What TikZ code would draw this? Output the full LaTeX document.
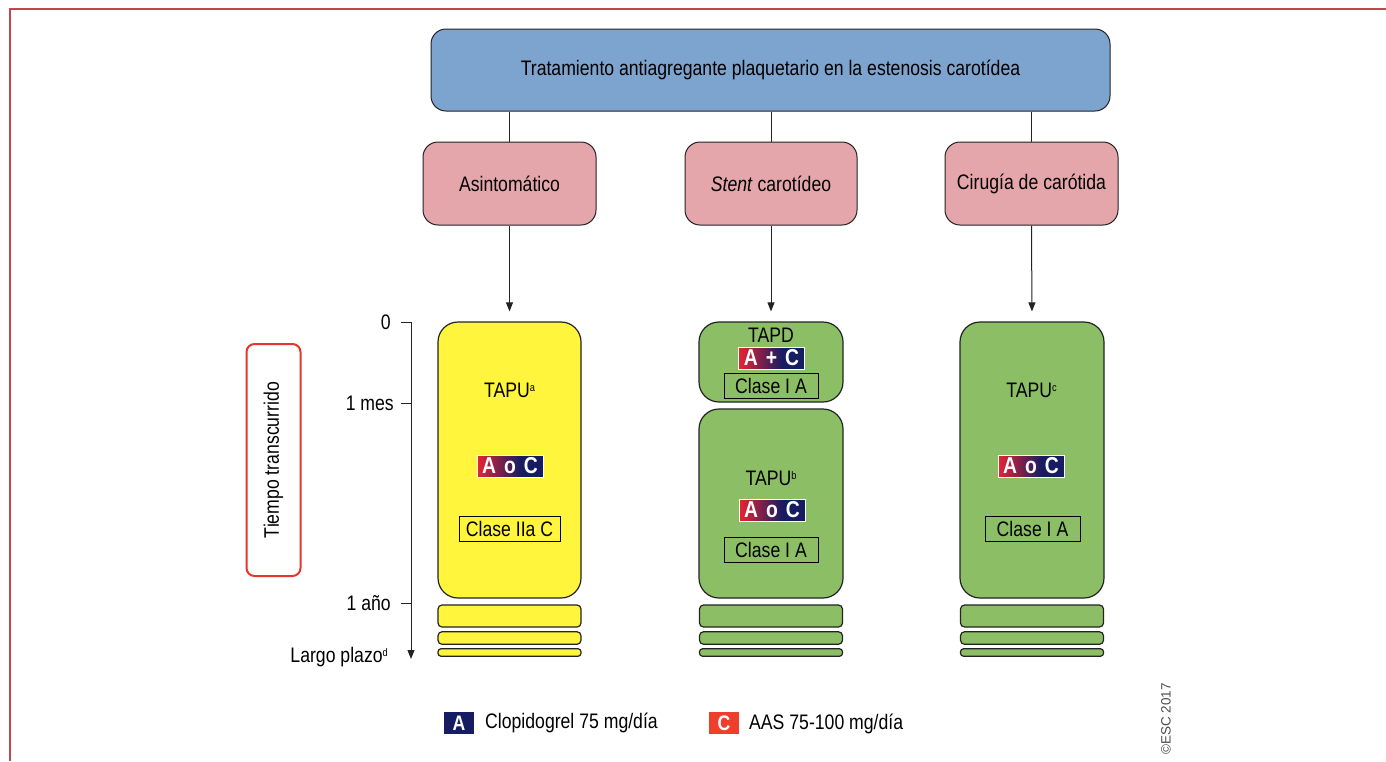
\documentclass[tikz,border=0pt]{standalone}
\usepackage{fontspec}
\setmainfont[FakeStretch=0.84]{Liberation Sans}
\newfontfamily\escfont{Liberation Sans}
\usetikzlibrary{arrows.meta}
\newcommand{\supx}[1]{\raisebox{6pt}{\fontsize{11}{12}\selectfont #1}}
\definecolor{frame}{RGB}{190,72,82}
\definecolor{topblue}{RGB}{124,164,206}
\definecolor{pinkf}{RGB}{228,166,170}
\definecolor{yel}{RGB}{255,245,60}
\definecolor{grn}{RGB}{140,190,102}
\definecolor{tred}{RGB}{232,52,42}
\definecolor{navy}{RGB}{22,28,98}
\definecolor{lred}{RGB}{240,62,44}
\definecolor{bred}{RGB}{232,36,50}
\definecolor{edge}{RGB}{35,35,35}
\pgfdeclarehorizontalshading{badgeshade}{100bp}{color(0bp)=(bred); color(25bp)=(bred); color(58bp)=(navy); color(100bp)=(navy)}
\tikzset{
  txt/.style={font=\fontsize{21}{24}\selectfont, text=black},
  topbox/.style={draw=edge, line width=1pt, fill=topblue, rounded corners=15pt, txt, inner sep=0pt},
  pinkbox/.style={draw=edge, line width=1pt, fill=pinkf, rounded corners=15pt, txt, inner sep=0pt},
  colbox/.style={draw=edge, line width=1.2pt, rounded corners=20pt, inner sep=0pt},
  strip/.style={draw=edge, line width=1.2pt, rounded corners=4pt, inner sep=0pt, minimum width=143pt},
  badge/.style={draw=white, line width=1pt, shading=badgeshade, inner sep=0pt, minimum width=66pt, minimum height=22pt, text=white, font=\bfseries\fontsize{23}{22}\selectfont},
  clase/.style={draw=black, line width=1pt, inner sep=0pt, txt},
  conn/.style={draw=edge, line width=1pt},
  arr/.style={conn, -{Triangle[length=9pt,width=7pt]}},
  tick/.style={txt, anchor=east, inner sep=0pt},
  legsq/.style={inner sep=0pt, minimum width=30pt, minimum height=22pt, text=white, font=\bfseries\fontsize{21}{22}\selectfont},
}
\begin{document}
\begin{tikzpicture}[x=1pt,y=-1pt]
\useasboundingbox (0,0) rectangle (1386,761);
\fill[white] (0,0) rectangle (1386,761);
% frame
\draw[frame, line width=2pt] (10,761) -- (10,9) -- (1386,9);

% top
\node[topbox, minimum width=679pt, minimum height=82pt] (top) at (770.5,70) {Tratamiento antiagregante plaquetario en la estenosis carotídea};

% pink
\node[pinkbox, minimum width=173pt, minimum height=83pt] (asin) at (509.5,183.5) {Asintomático};
\node[pinkbox, minimum width=172pt, minimum height=83pt] (stent) at (771,183.5) {\textit{Stent} carotídeo};
\node[pinkbox, minimum width=173pt, minimum height=83pt] (ciru) at (1031.5,183.5) {Cirugía de carótida};

\draw[conn] (top.south -| asin.north) -- (asin.north);
\draw[conn] (top.south -| stent.north) -- (stent.north);
\draw[conn] (top.south -| ciru.north) -- (ciru.north);

% columns
\node[colbox, fill=yel, minimum width=143pt, minimum height=276pt] (ycol) at (509.5,460) {};
\node[colbox, fill=grn, minimum width=144pt, minimum height=80pt] (gtop) at (771,362) {};
\node[colbox, fill=grn, minimum width=144pt, minimum height=189pt] (gbot) at (771,503.5) {};
\node[colbox, fill=grn, minimum width=144pt, minimum height=276pt] (rcol) at (1032,460) {};

\draw[arr, shorten >=10pt] (asin.south) -- (ycol.north);
\draw[arr, shorten >=10pt] (stent.south) -- (gtop.north);
\draw[arr, shorten >=10pt] (ciru.south) -- (rcol.north);

% strips
\foreach \cx/\col/\nm in {509.5/yel/y, 771/grn/m, 1032/grn/r}{
  \node[strip, fill=\col, minimum height=22pt] (\nm s1) at (\cx,616) {};
  \node[strip, fill=\col, minimum height=12.5pt] (\nm s2) at (\cx,638) {};
  \node[strip, fill=\col, minimum height=7.5pt, rounded corners=3pt] (\nm s3) at (\cx,652.5) {};
}

% yellow column content
\node[txt] (ytapu) at (509.5,390) {TAPU\supx{a}};
\node[badge] (ybadge) at (510,466) {A\hspace{8pt}o\hspace{8pt}C};
\node[clase, minimum width=101pt, minimum height=25pt] (ycl) at (509.5,528.5) {Clase IIa C};

% middle
\node[txt] (mtapd) at (771,335) {TAPD};
\node[badge] (mbadge1) at (771.5,358) {A\hspace{8pt}+\hspace{8pt}C};
\node[clase, minimum width=94pt, minimum height=25pt] (mcl1) at (771,385.5) {Clase I A};
\node[txt] (mtapu) at (771,478) {TAPU\supx{b}};
\node[badge] (mbadge2) at (772,510) {A\hspace{8pt}o\hspace{8pt}C};
\node[clase, minimum width=94pt, minimum height=25pt] (mcl2) at (771,549.5) {Clase I A};

% right
\node[txt] (rtapu) at (1031.5,390) {TAPU\supx{c}};
\node[badge] (rbadge) at (1031,466) {A\hspace{8pt}o\hspace{8pt}C};
\node[clase, minimum width=95pt, minimum height=25pt] (rcl) at (1032.5,528.5) {Clase I A};

% axis
\coordinate (a0) at (411,322);
\coordinate (aE) at (411,659);
\draw[arr] (a0) -- (aE);
\coordinate (t0) at (401,322);
\coordinate (t1) at (401,403);
\coordinate (t2) at (401,603);
\draw[conn] (t0) -- (a0);
\draw[conn] (t1) -- (t1 -| a0);
\draw[conn] (t2) -- (t2 -| a0);
\node[tick] (l0) at (391,322) {0};
\node[tick] (l1) at (394,403) {1 mes};
\node[tick] (l2) at (391,603) {1 año};
\node[tick] (l3) at (388,657) {Largo plazo\supx{d}};

% tiempo box
\node[draw=tred, line width=2pt, rounded corners=8pt, rotate=90, minimum width=232pt, minimum height=54pt, inner sep=0pt, txt] (tiempo) at (273.5,460) {Tiempo transcurrido};

% legend
\node[legsq, fill=navy] (legA) at (459,723) {A};
\node[txt, anchor=west, inner sep=0pt] (legAt) at (485,723) {Clopidogrel 75 mg/día};
\node[legsq, fill=lred] (legC) at (724,723) {C};
\node[txt, anchor=west, inner sep=0pt] (legCt) at (749,724) {AAS 75-100 mg/día};

% copyright
\node[rotate=90, text=black!70, font=\escfont\fontsize{13.5}{15}\selectfont, inner sep=0pt] (esc) at (1166,719) {©ESC 2017};
\end{tikzpicture}
\end{document}
